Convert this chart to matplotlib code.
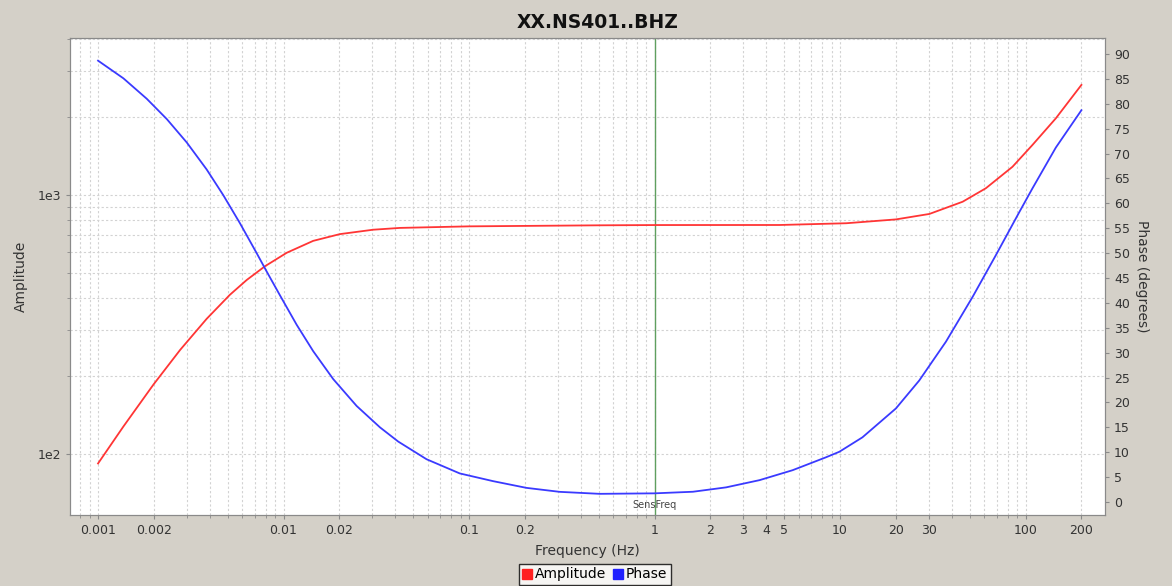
import matplotlib
matplotlib.use("Agg")
import matplotlib.pyplot as plt
from matplotlib.lines import Line2D
from matplotlib.ticker import FixedLocator, NullFormatter, LogLocator

# ---- data ----
amp_freq = [0.001, 0.00137, 0.00199, 0.00277, 0.00385, 0.00514, 0.00633, 0.00794, 0.0104,
            0.01445, 0.0201, 0.0304, 0.0424, 0.1, 0.5, 1, 4.71, 10.8, 20.0, 30.3, 45.8,
            61.1, 85.0, 108.9, 145.6, 200]
amp_vals = [92.0, 127.8, 185.6, 252.4, 332.7, 412.1, 469.9, 530.9, 598.4,
            665.3, 706.3, 734.5, 746.4, 756.8, 763.8, 765.6, 766, 778, 805, 845, 942,
            1062, 1285, 1560, 1977, 2660]

ph_freq = [0.001, 0.00137, 0.00183, 0.00235, 0.00301, 0.00385, 0.00473, 0.00582, 0.00716,
           0.00811, 0.00957, 0.01177, 0.01445, 0.01852, 0.02477, 0.0331, 0.0415, 0.059,
           0.0891, 0.1347, 0.2038, 0.308, 0.506, 1, 1.61, 2.43, 3.68, 5.55, 8.41, 9.91,
           13.2, 20.0, 26.7, 37.2, 51.8, 69.2, 92.4, 108.9, 145.6, 200]
ph_vals = [88.65, 85.1, 81.0, 76.9, 72.2, 66.8, 61.65, 56.0, 50.0,
           46.3, 41.5, 35.6, 30.3, 24.7, 19.3, 15.0, 12.15, 8.6,
           5.75, 4.2, 2.85, 2.05, 1.65, 1.75, 2.07, 2.95, 4.4, 6.4, 9.0, 10.1,
           13.0, 18.8, 24.4, 32.2, 41.2, 49.6, 58.2, 63.0, 71.2, 78.7]

x_ticks = [0.001, 0.002, 0.01, 0.02, 0.1, 0.2, 1, 2, 3, 4, 5, 10, 20, 30, 100, 200]
x_tick_labels = ["0.001", "0.002", "0.01", "0.02", "0.1", "0.2", "1", "2", "3", "4", "5",
                 "10", "20", "30", "100", "200"]
amp_ticks = [100, 1000]
amp_tick_labels = ["1e2", "1e3"]
amp_minor = [200, 300, 400, 500, 600, 700, 800, 900, 2000, 3000, 4000]
phase_ticks = list(range(0, 95, 5))
sens_freq = 1.0

title = "XX.NS401..BHZ"

# ---- style ----
plt.rcParams['font.family'] = ['DejaVu Sans']
BG = "#d4d0c8"
GRID = "#d2d2d2"
SPINE = "#8a8a8a"
TXT = "#333333"

fig = plt.figure(figsize=(11.72, 5.86), dpi=100, facecolor=BG)
ax = fig.add_axes([70/1172, 1-515/586, (1105-70)/1172, (515-38)/586])
ax.set_facecolor("white")
ax.set_xscale("log")
ax.set_yscale("log")
ax.set_xlim(0.000706, 268)
ax.set_ylim(58.2, 4036)

ax.xaxis.set_major_locator(FixedLocator(x_ticks))
ax.set_xticklabels(x_tick_labels)
ax.xaxis.set_minor_locator(LogLocator(base=10, subs=range(1, 10), numticks=30))
ax.xaxis.set_minor_formatter(NullFormatter())
ax.yaxis.set_major_locator(FixedLocator(amp_ticks))
ax.set_yticklabels(amp_tick_labels)
ax.yaxis.set_minor_locator(FixedLocator(amp_minor))
ax.yaxis.set_minor_formatter(NullFormatter())

ax.grid(True, which="both", color=GRID, linestyle=(0, (2, 2)), linewidth=0.8)
ax.set_axisbelow(True)
for s in ax.spines.values():
    s.set_color(SPINE)
ax.tick_params(which="both", colors=SPINE, labelcolor=TXT, labelsize=9, length=3)
ax.tick_params(which="minor", length=2)

ax.plot(amp_freq, amp_vals, color="#ff3535", linewidth=1.3, zorder=3)
ax.axvline(sens_freq, color="#5f9f5f", linewidth=1.0, zorder=2)
ax.text(sens_freq, 63.5, "SensFreq", ha="center", va="center", fontsize=7, color="#444444")

ax.set_xlabel("Frequency (Hz)", fontsize=10, color=TXT, labelpad=5)
ax.set_ylabel("Amplitude", fontsize=10, color=TXT)
ax.yaxis.set_label_coords((28-70)/1035, 0.5)

ax2 = ax.twinx()
ax2.set_ylim(-2.6, 93.2)
ax2.set_yticks(phase_ticks)
ax2.set_yticklabels([str(t) for t in phase_ticks])
for s in ax2.spines.values():
    s.set_color(SPINE)
ax2.tick_params(colors=SPINE, labelcolor=TXT, labelsize=9, length=3)
ax2.plot(ph_freq, ph_vals, color="#3a3aff", linewidth=1.3, zorder=3)
ax2.set_ylabel("Phase (degrees)", fontsize=10, color=TXT, rotation=270, labelpad=14)

fig.text(598/1172, 1-22/586, title, ha="center", va="center", fontsize=13.5,
         fontweight="bold", color="#111111")

handles = [Line2D([], [], marker="s", linestyle="none", color="#ff2020", markersize=7),
           Line2D([], [], marker="s", linestyle="none", color="#2020ff", markersize=7)]
leg = fig.legend(handles, ["Amplitude", "Phase"], loc="upper center",
                 bbox_to_anchor=(595/1172, 1-564/586), ncol=2, frameon=True,
                 fancybox=False, edgecolor="black", fontsize=10, handlelength=0.6,
                 handletextpad=0.3, columnspacing=0.5, borderpad=0.25, borderaxespad=0)
leg.get_frame().set_linewidth(1.0)

fig.savefig("out.png", dpi=100, facecolor=BG)
